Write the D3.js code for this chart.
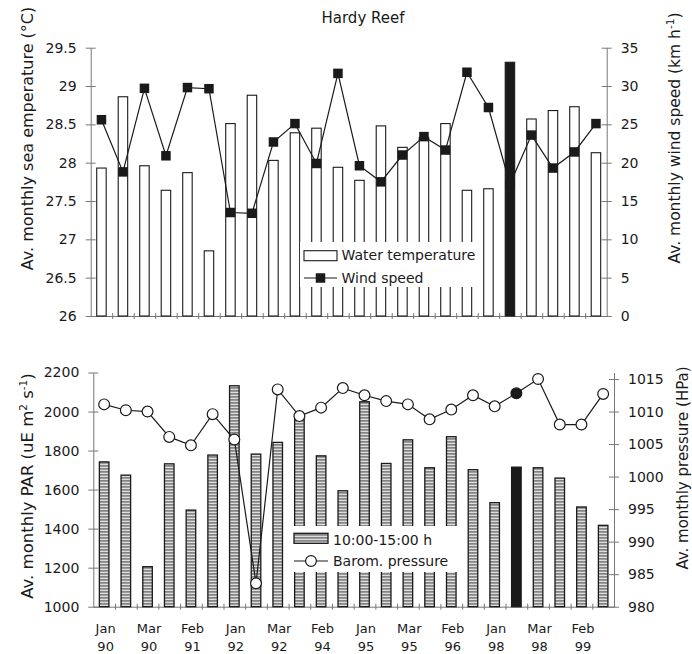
<!DOCTYPE html>
<html>
<head>
<meta charset="utf-8">
<script src="https://cdn.jsdelivr.net/npm/d3@7"></script>
<style>
  body { margin: 0; background: #fff; }
  svg { font-family: 'DejaVu Sans', sans-serif; }
</style>
</head>
<body>
<script>
'use strict';
// 24 monthly samples, every second one gets a label on the x axis
const samples = [1, 2, 3, 4, 5, 6, 7, 8, 9, 10, 11, 12, 13, 14, 15, 16, 17, 18, 19, 20, 21, 22, 23, 24];
const monthLabels = ['Jan 90', '', 'Mar 90', '', 'Feb 91', '', 'Jan 92', '', 'Mar 92', '', 'Feb 94', '',
                     'Jan 95', '', 'Mar 95', '', 'Feb 96', '', 'Jan 98', '', 'Mar 98', '', 'Feb 99', ''];
const highlighted = 20;

const waterTemp = [27.93, 28.86, 27.96, 27.64, 27.87, 26.85, 28.51, 28.88, 28.03, 28.39, 28.45, 27.94,
                   27.77, 28.48, 28.20, 28.33, 28.51, 27.64, 27.66, 29.31, 28.57, 28.68, 28.73, 28.13];
const windSpeed = [25.6, 18.8, 29.7, 20.9, 29.8, 29.65, 13.5, 13.4, 22.7, 25.1, 19.9, 31.65,
                   19.6, 17.5, 21.0, 23.4, 21.65, 31.8, 27.2, 17.2, 23.6, 19.3, 21.4, 25.1];
const parValues = [1742, 1674, 1205, 1732, 1495, 1777, 2132, 1782, 1842, 1982, 1773, 1594,
                   2050, 1734, 1855, 1712, 1871, 1702, 1533, 1715, 1712, 1659, 1511, 1417];
const pressure = [1011.1, 1010.2, 1010.0, 1006.1, 1004.8, 1009.6, 1005.7, 983.6, 1013.4, 1009.3, 1010.6, 1013.6,
                  1012.5, 1011.6, 1011.1, 1008.8, 1010.3, 1012.5, 1010.8, 1012.8, 1015.0, 1008.0, 1008.0, 1012.7];

const tempTicks = [26, 26.5, 27, 27.5, 28, 28.5, 29, 29.5];
const windTicks = [0, 5, 10, 15, 20, 25, 30, 35];
const parTicks = [1000, 1200, 1400, 1600, 1800, 2000, 2200];
const pressureTicks = [980, 985, 990, 995, 1000, 1005, 1010, 1015];

(function() {
    let svgContainer = '';
    let upper = { left: 90.7, right: 606.7, top: 47.7, bottom: 316 };
    let lower = { left: 93.3, right: 614, top: 372.5, bottom: 606.7 };
    let ink = '#1a1a1a';

    window.onload = () => {
        svgContainer = d3.select('body')
                        .append('svg')
                        .attr('width', 692)
                        .attr('height', 654);
        let pattern = svgContainer.append('defs').append('pattern')
                        .attr('id', 'hatch')
                        .attr('patternUnits', 'userSpaceOnUse')
                        .attr('width', 6)
                        .attr('height', 3);
        pattern.append('rect').attr('width', 6).attr('height', 3).attr('fill', '#858585');
        pattern.append('rect').attr('y', 1.8).attr('width', 6).attr('height', 1).attr('fill', '#f4f4f4');

        svgContainer.append('text')
                    .attr('x', 363)
                    .attr('y', 23)
                    .attr('text-anchor', 'middle')
                    .style('font-size', '15px')
                    .attr('fill', ink)
                    .text('Hardy Reef');

        plotTemperature();
        plotPar();

        rotatedLabel(33, 138.5, 16, [{ text: 'Av. monthly sea emperature (°C)' }]);
        rotatedLabel(680, 138, 15.5, [{ text: 'Av. monthly wind speed (km h' }, { text: '-1', sup: true }, { text: ')' }]);
        rotatedLabel(33, 486, 16.5, [{ text: 'Av. monthly PAR (uE m' }, { text: '2', sup: true }, { text: ' s' },
                                     { text: '-1', sup: true }, { text: ')' }]);
        rotatedLabel(688, 468, 15, [{ text: 'Av. monthly pressure (HPa)' }]);
    }

    function bandScale(panel) {
        return d3.scaleBand()
                 .domain(samples)
                 .range([panel.left, panel.right])
                 .paddingInner(0.56)
                 .paddingOuter(0.28);
    }

    function yAxis(scale, ticks, x, side) {
        let axis = (side === 'left' ? d3.axisLeft(scale) : d3.axisRight(scale))
                    .tickValues(ticks)
                    .tickSize(5)
                    .tickSizeOuter(0)
                    .tickPadding(9)
                    .tickFormat((d) => d);
        let g = svgContainer.append('g')
                    .attr('transform', 'translate(' + x + ',0)')
                    .call(axis);
        g.attr('font-family', null).attr('font-size', 14);
        g.select('.domain').attr('stroke', '#777');
        g.selectAll('.tick line').attr('x1', -5).attr('x2', 5).attr('stroke', '#777');
        g.selectAll('.tick text').attr('fill', ink);
    }

    function xAxis(panel) {
        let edges = d3.scaleLinear().domain([0, samples.length]).range([panel.left, panel.right]);
        let axis = d3.axisBottom(edges)
                    .tickValues(d3.range(1, samples.length))
                    .tickSize(3)
                    .tickSizeOuter(0)
                    .tickFormat('');
        let g = svgContainer.append('g')
                    .attr('transform', 'translate(0,' + panel.bottom + ')')
                    .call(axis);
        g.select('.domain').attr('stroke', '#777');
        g.selectAll('.tick line').attr('y1', -3).attr('stroke', '#777');
    }

    function plotTemperature() {
        let x = bandScale(upper);
        let yTemp = d3.scaleLinear().domain([26, 29.5]).range([upper.bottom, upper.top]);
        let yWind = d3.scaleLinear().domain([0, 35]).range([upper.bottom, upper.top]);
        let data = samples.map((s, i) => ({ sample: s, temp: waterTemp[i], wind: windSpeed[i] }));
        let cx = (d) => x(d.sample) + x.bandwidth() / 2;

        yAxis(yTemp, tempTicks, upper.left, 'left');
        yAxis(yWind, windTicks, upper.right, 'right');
        xAxis(upper);

        svgContainer.selectAll('.tempBar')
                    .data(data)
                    .enter()
                    .append('rect')
                    .attr('class', 'tempBar')
                    .attr('x', (d) => x(d.sample))
                    .attr('y', (d) => yTemp(d.temp))
                    .attr('width', x.bandwidth())
                    .attr('height', (d) => upper.bottom - yTemp(d.temp))
                    .attr('fill', (d) => d.sample === highlighted ? ink : 'white')
                    .attr('stroke', ink)
                    .attr('stroke-width', 1.1);

        // legend box hides the bars behind it
        svgContainer.append('rect')
                    .attr('x', 300).attr('y', 242)
                    .attr('width', 181).attr('height', 45)
                    .attr('fill', 'white');
        svgContainer.append('rect')
                    .attr('x', 304).attr('y', 250.7)
                    .attr('width', 33).attr('height', 10)
                    .attr('fill', 'white')
                    .attr('stroke', ink)
                    .attr('stroke-width', 1.1);
        svgContainer.append('line')
                    .attr('x1', 304).attr('x2', 337)
                    .attr('y1', 278).attr('y2', 278)
                    .attr('stroke', ink)
                    .attr('stroke-width', 1.2);
        svgContainer.append('rect')
                    .attr('x', 320.5 - 4.75).attr('y', 278 - 4.75)
                    .attr('width', 9.5).attr('height', 9.5)
                    .attr('fill', ink);
        legendText(341.5, 260, 'Water temperature');
        legendText(341.5, 283, 'Wind speed');

        svgContainer.append('path')
                    .datum(data)
                    .attr('fill', 'none')
                    .attr('stroke', ink)
                    .attr('stroke-width', 1.2)
                    .attr('d', d3.line().x(cx).y((d) => yWind(d.wind)));
        svgContainer.selectAll('.windDot')
                    .data(data)
                    .enter()
                    .append('rect')
                    .attr('class', 'windDot')
                    .attr('x', (d) => cx(d) - 4.75)
                    .attr('y', (d) => yWind(d.wind) - 4.75)
                    .attr('width', 9.5)
                    .attr('height', 9.5)
                    .attr('fill', ink);
    }

    function plotPar() {
        let x = bandScale(lower);
        let yPar = d3.scaleLinear().domain([1000, 2200]).range([lower.bottom, lower.top]);
        let yPres = d3.scaleLinear().domain([980, 1016]).range([lower.bottom, lower.top]);
        let data = samples.map((s, i) => ({ sample: s, par: parValues[i], pres: pressure[i], label: monthLabels[i] }));
        let cx = (d) => x(d.sample) + x.bandwidth() / 2;

        yAxis(yPar, parTicks, lower.left, 'left');
        yAxis(yPres, pressureTicks, lower.right, 'right');
        xAxis(lower);

        svgContainer.selectAll('.parBar')
                    .data(data)
                    .enter()
                    .append('rect')
                    .attr('class', 'parBar')
                    .attr('x', (d) => x(d.sample))
                    .attr('y', (d) => yPar(d.par))
                    .attr('width', x.bandwidth())
                    .attr('height', (d) => lower.bottom - yPar(d.par))
                    .attr('fill', (d) => d.sample === highlighted ? ink : 'url(#hatch)')
                    .attr('stroke', ink)
                    .attr('stroke-width', 1.3);

        let labels = svgContainer.selectAll('.monthLabel')
                    .data(data.filter((d) => d.label !== ''))
                    .enter()
                    .append('text')
                    .attr('class', 'monthLabel')
                    .attr('text-anchor', 'middle')
                    .attr('fill', ink)
                    .style('font-size', '13px');
        labels.append('tspan').attr('x', (d) => cx(d) + 1.5).attr('y', 633).text((d) => d.label.split(' ')[0]);
        labels.append('tspan').attr('x', (d) => cx(d) + 1.5).attr('y', 651).text((d) => d.label.split(' ')[1]);

        svgContainer.append('rect')
                    .attr('x', 289).attr('y', 526)
                    .attr('width', 169).attr('height', 46)
                    .attr('fill', 'white');
        svgContainer.append('rect')
                    .attr('x', 294).attr('y', 533.3)
                    .attr('width', 34).attr('height', 10)
                    .attr('fill', 'url(#hatch)')
                    .attr('stroke', ink)
                    .attr('stroke-width', 1.3);
        svgContainer.append('line')
                    .attr('x1', 294).attr('x2', 328)
                    .attr('y1', 561).attr('y2', 561)
                    .attr('stroke', ink)
                    .attr('stroke-width', 1.2);
        svgContainer.append('circle')
                    .attr('cx', 311).attr('cy', 561).attr('r', 5.4)
                    .attr('fill', 'white')
                    .attr('stroke', ink)
                    .attr('stroke-width', 1.2);
        legendText(333, 545, '10:00-15:00 h');
        legendText(333, 566, 'Barom. pressure');

        svgContainer.append('path')
                    .datum(data)
                    .attr('fill', 'none')
                    .attr('stroke', ink)
                    .attr('stroke-width', 1.2)
                    .attr('d', d3.line().x(cx).y((d) => yPres(d.pres)));
        svgContainer.selectAll('.presDot')
                    .data(data)
                    .enter()
                    .append('circle')
                    .attr('class', 'presDot')
                    .attr('cx', cx)
                    .attr('cy', (d) => yPres(d.pres))
                    .attr('r', 5.4)
                    .attr('fill', (d) => d.sample === highlighted ? ink : 'white')
                    .attr('stroke', ink)
                    .attr('stroke-width', 1.2);
    }

    function legendText(x, y, txt) {
        svgContainer.append('text')
                    .attr('x', x)
                    .attr('y', y)
                    .attr('fill', ink)
                    .style('font-size', '14px')
                    .text(txt);
    }

    function rotatedLabel(x, y, size, parts) {
        let t = svgContainer.append('text')
                    .attr('transform', 'translate(' + x + ',' + y + ') rotate(-90)')
                    .attr('text-anchor', 'middle')
                    .attr('fill', ink)
                    .style('font-size', size + 'px');
        let shifted = false;
        parts.forEach((p) => {
            let s = t.append('tspan').text(p.text);
            if (p.sup) {
                s.attr('dy', shifted ? 0 : -6).style('font-size', '10.5px');
                shifted = true;
            } else if (shifted) {
                s.attr('dy', 6);
                shifted = false;
            }
        });
    }
})();
</script>
</body>
</html>
